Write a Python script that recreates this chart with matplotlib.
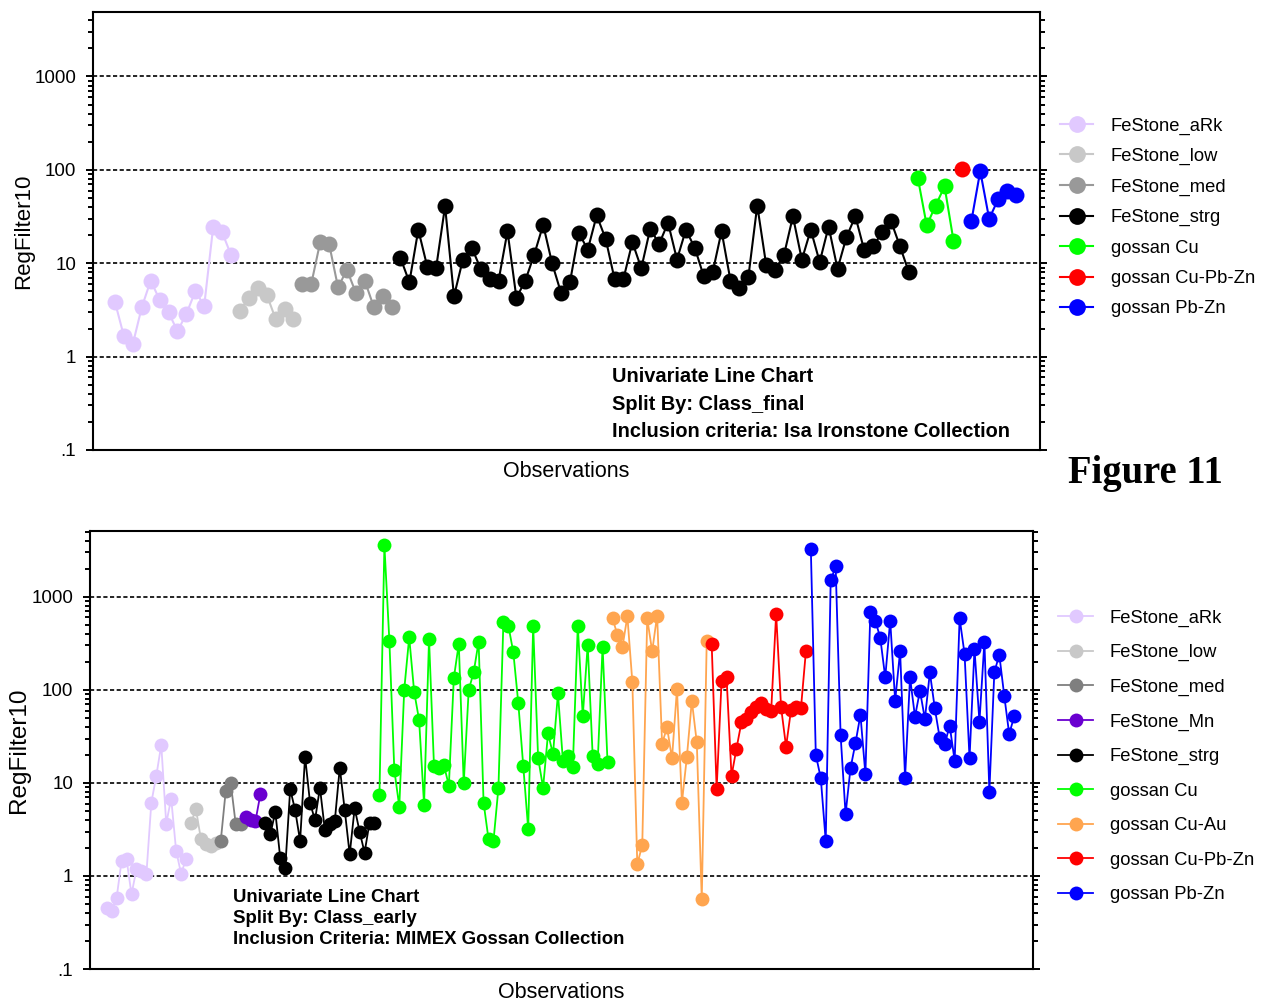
import matplotlib
matplotlib.use("Agg")
import matplotlib.pyplot as plt
from matplotlib import ticker
import numpy as np

plt.rcParams['font.family'] = ['Liberation Sans', 'DejaVu Sans']

# ---------------------------------------------------------------- top chart
# Isa Ironstone collection, split by Class_final
top_labels = ['FeStone_aRk', 'FeStone_low', 'FeStone_med', 'FeStone_strg',
              'gossan Cu', 'gossan Cu-Pb-Zn', 'gossan Pb-Zn']
top_colors = ['#E1C9FF', '#C8C8C8', '#999999', '#000000',
              '#00FF00', '#FF0000', '#0000FF']

top_ark = [3.82, 1.65, 1.37, 3.38, 6.53, 4.05, 2.98, 1.87, 2.87, 5.01, 3.52,
           24.3, 21.5, 12.3]
top_low = [3.11, 4.22, 5.40, 4.62, 2.54, 3.24, 2.54]
top_med = [6.0, 6.0, 16.8, 16.1, 5.53, 8.5, 4.82, 6.5, 3.43, 4.43, 3.43]
top_strg = [11.4, 6.26, 22.8, 9.22, 8.93, 40.8, 4.43, 10.96, 14.6, 8.71,
            6.8, 6.53, 22.0, 4.26, 6.53, 12.4, 25.8, 10.0, 4.82, 6.26,
            21.0, 14.0, 32.5, 18.3, 6.8, 6.8, 16.8, 8.84, 23.4, 16.1,
            27.1, 10.96, 22.8, 14.6, 7.26, 8.0, 22.0, 6.53, 5.45, 7.08,
            41.5, 9.61, 8.5, 12.3, 31.7, 10.9, 22.8, 10.3, 24.7, 8.71,
            19.0, 31.9, 13.7, 15.2, 21.5, 28.2, 15.2, 8.0]
top_cu = [82.3, 25.4, 41.5, 66.4, 17.5]
top_cupbzn = [101]
top_pbzn = [28.0, 96.9, 29.9, 48.2, 58.7, 53.2]

top_groups = [top_ark, top_low, top_med, top_strg, top_cu, top_cupbzn, top_pbzn]

# ------------------------------------------------------------- bottom chart
# MIMEX gossan collection, split by Class_early
bot_labels = ['FeStone_aRk', 'FeStone_low', 'FeStone_med', 'FeStone_Mn',
              'FeStone_strg', 'gossan Cu', 'gossan Cu-Au', 'gossan Cu-Pb-Zn',
              'gossan Pb-Zn']
bot_colors = ['#E1C9FF', '#C8C8C8', '#7F7F7F', '#6A00D0', '#000000',
              '#00FF00', '#FFA54F', '#FF0000', '#0000FF']

bot_ark = [0.456, 0.42, 0.585, 1.45, 1.51, 0.636, 1.18, 1.13, 1.04, 6.15,
           11.9, 25.7, 3.66, 6.8, 1.86, 1.06, 1.51]
bot_low = [3.75, 5.2, 2.48, 2.19, 2.10, 2.28]
bot_med = [2.38, 8.2, 10.1, 3.66, 3.66]
bot_mn = [4.3, 4.0, 3.9, 7.6]
bot_strg = [3.75, 2.81, 4.89, 1.55, 1.21, 8.58, 5.10, 2.38, 19.2, 6.15,
            3.97, 8.9, 3.10, 3.6, 3.91, 14.6, 5.1, 1.71, 5.35, 3.0,
            1.78, 3.75, 3.75]
bot_cu = [7.4, 3565, 339, 13.8, 5.57, 100.5, 367, 95.6, 47.4, 5.81,
          353, 15.3, 14.6, 15.5, 9.36, 134, 312, 9.86, 100, 154,
          330, 6.15, 2.48, 2.38, 8.9, 542, 491, 253, 72.3, 15.3,
          3.18, 491, 18.5, 8.9, 34, 20.4, 91.6, 17.3, 19.6, 15.0,
          491, 51.8, 304, 19.6, 15.9, 292, 16.6]
bot_cuau = [587, 390, 287, 618, 122, 1.34, 2.14, 587, 260, 629,
            26.5, 39.5, 18.3, 102, 6.15, 19.1, 76.5, 27.2, 0.561, 333]
bot_cupbzn = [312, 8.58, 126, 136, 11.9, 23.4, 44.7, 48.6, 57.3, 65.9,
              71.6, 62.3, 59.7, 656, 64.8, 24.5, 60.8, 65.9, 63.2, 260]
bot_pbzn = [3230, 20, 11.3, 2.38, 1500, 2120, 32.7, 4.62, 14.4, 26.8,
            54, 12.4, 683, 556, 362, 136, 556, 76.5, 260, 11.3,
            136, 51.5, 98, 48.6, 154, 63.2, 30.1, 26.2, 41.2, 17.3,
            589, 243, 18.3, 275, 45.5, 330, 8.08, 154, 239, 86.6,
            33.5, 51.8]

bot_groups = [bot_ark, bot_low, bot_med, bot_mn, bot_strg, bot_cu, bot_cuau,
              bot_cupbzn, bot_pbzn]

ytick_vals = [0.1, 1, 10, 100, 1000]
ytick_text = ['.1', '1', '10', '100', '1000']


def draw_panel(ax, groups, colors, labels, msize, lw, xlim, ylim):
    # observations run on one index axis, one colour per class
    start = 0
    handles = []
    for vals, col, lab in zip(groups, colors, labels):
        x = np.arange(start, start + len(vals))
        h, = ax.plot(x, vals, color=col, lw=lw, marker='o', ms=msize,
                     mec=col, mew=0, label=lab, zorder=3)
        handles.append(h)
        start += len(vals)

    ax.set_yscale('log')
    ax.set_xlim(*xlim)
    ax.set_ylim(*ylim)
    for v in [1, 10, 100, 1000]:
        ax.axhline(v, color='black', lw=1.2, ls=(0, (2.5, 1.5)), zorder=1)

    ax.yaxis.set_major_locator(ticker.FixedLocator(ytick_vals))
    ax.yaxis.set_major_formatter(ticker.FixedFormatter(ytick_text))
    ax.yaxis.set_minor_locator(ticker.LogLocator(base=10, subs=np.arange(2, 10)))
    ax.yaxis.set_minor_formatter(ticker.NullFormatter())
    ax.tick_params(axis='y', which='both', direction='out', width=1.4,
                   right=True, labelright=False, labelsize=13.5, pad=7)
    ax.tick_params(axis='y', which='major', length=5)
    ax.tick_params(axis='y', which='minor', length=3.5)
    ax.set_xticks([])
    for sp in ax.spines.values():
        sp.set_linewidth(1.5)
    return handles


fig = plt.figure(figsize=(12.74, 10.01), dpi=100)

ax1 = fig.add_axes([93 / 1274, 1 - 450 / 1001, 947 / 1274, 438 / 1001])
h1 = draw_panel(ax1, top_groups, top_colors, top_labels, 11.5, 1.5,
                (-2.47, 103.7), (0.1, 4900))
ax1.set_ylabel('RegFilter10', fontsize=16, labelpad=0.5)
ax1.set_xlabel('Observations', fontsize=15.5, labelpad=8)
ax1.text(0.548, 0.105, 'Univariate Line Chart\nSplit By: Class_final\n'
         'Inclusion criteria: Isa Ironstone Collection',
         transform=ax1.transAxes, fontsize=14.4, fontweight='bold',
         va='center', ha='left', linespacing=1.55)
fig.legend(handles=h1, loc='upper left', bbox_to_anchor=(1053 / 1274, 1 - 110 / 1001),
           frameon=False, fontsize=13.2, numpoints=1, handlelength=1.8,
           handletextpad=0.95, labelspacing=0.73, borderaxespad=0,
           markerscale=1.05)

fig.text(1145 / 1274, 1 - 473 / 1001, 'Figure 11', fontsize=27.8,
         fontweight='bold', family=['Liberation Serif', 'DejaVu Serif'],
         ha='center', va='center')

ax2 = fig.add_axes([90 / 1274, 1 - 969 / 1001, 943 / 1274, 438 / 1001])
h2 = draw_panel(ax2, bot_groups, bot_colors, bot_labels, 10, 1.3,
                (-3.37, 186.8), (0.1, 5100))
ax2.set_ylabel('RegFilter10', fontsize=17.5, labelpad=1)
ax2.set_xlabel('Observations', fontsize=15.5, labelpad=9)
ax2.text(0.152, 0.116, 'Univariate Line Chart\nSplit By: Class_early\n'
         'Inclusion Criteria: MIMEX Gossan Collection',
         transform=ax2.transAxes, fontsize=13.45, fontweight='bold',
         va='center', ha='left', linespacing=1.3)
fig.legend(handles=h2, loc='upper left', bbox_to_anchor=(1051 / 1274, 1 - 602 / 1001),
           frameon=False, fontsize=13.2, numpoints=1, handlelength=1.9,
           handletextpad=0.9, labelspacing=0.955, borderaxespad=0)

fig.savefig('out.png', dpi=100)
